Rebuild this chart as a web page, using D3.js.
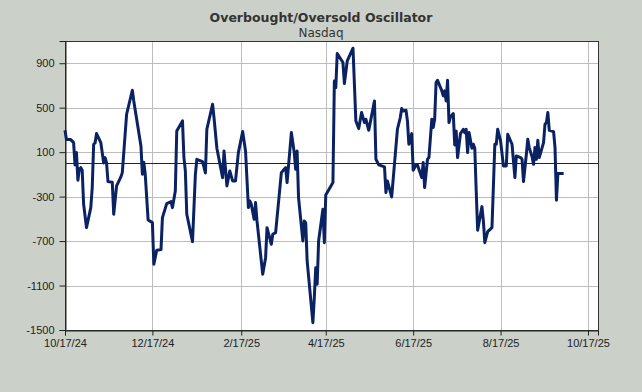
<!DOCTYPE html>
<html>
<head>
<meta charset="utf-8">
<script src="https://cdn.jsdelivr.net/npm/d3@7"></script>
<style>
	html, body { margin: 0; padding: 0; background: #cbd0c9; }
	svg { display: block; }
</style>
</head>
<body>
<div id="chart"></div>
<script>
// readings
var dates = [
	'2024-10-17','2024-10-18','2024-10-21','2024-10-23','2024-10-24','2024-10-25','2024-10-26','2024-10-27','2024-10-28','2024-10-29',
	'2024-10-30','2024-11-01','2024-11-04','2024-11-05','2024-11-06','2024-11-07','2024-11-08','2024-11-11','2024-11-13','2024-11-14',
	'2024-11-15','2024-11-16','2024-11-19','2024-11-20','2024-11-22','2024-11-25','2024-11-26','2024-11-29','2024-12-03','2024-12-04',
	'2024-12-09','2024-12-10','2024-12-11','2024-12-12','2024-12-14','2024-12-17','2024-12-18','2024-12-20','2024-12-23','2024-12-24',
	'2024-12-27','2024-12-30','2024-12-31','2025-01-02','2025-01-03','2025-01-07','2025-01-08','2025-01-09','2025-01-10','2025-01-14',
	'2025-01-16','2025-01-17','2025-01-21','2025-01-23','2025-01-24','2025-01-28','2025-01-29','2025-01-31','2025-02-04','2025-02-05',
	'2025-02-07','2025-02-09','2025-02-11','2025-02-13','2025-02-15','2025-02-18','2025-02-20','2025-02-22','2025-02-23','2025-02-24',
	'2025-02-26','2025-02-27','2025-02-28','2025-03-04','2025-03-06','2025-03-07','2025-03-10','2025-03-11','2025-03-13','2025-03-17',
	'2025-03-19','2025-03-20','2025-03-21','2025-03-24','2025-03-26','2025-03-27','2025-03-28','2025-03-29','2025-04-01','2025-04-02',
	'2025-04-03','2025-04-04','2025-04-08','2025-04-09','2025-04-10','2025-04-11','2025-04-12','2025-04-15','2025-04-16','2025-04-17',
	'2025-04-22','2025-04-23','2025-04-24','2025-04-25','2025-04-29','2025-04-30','2025-05-02','2025-05-06','2025-05-08','2025-05-10',
	'2025-05-12','2025-05-14','2025-05-15','2025-05-17','2025-05-21','2025-05-22','2025-05-24','2025-05-28','2025-05-29','2025-05-30',
	'2025-06-02','2025-06-06','2025-06-08','2025-06-09','2025-06-10','2025-06-12','2025-06-13','2025-06-14','2025-06-16','2025-06-17',
	'2025-06-19','2025-06-20','2025-06-23','2025-06-24','2025-06-25','2025-06-27','2025-06-28','2025-06-30','2025-07-01','2025-07-02',
	'2025-07-03','2025-07-04','2025-07-07','2025-07-08','2025-07-09','2025-07-10','2025-07-11','2025-07-12','2025-07-13','2025-07-15',
	'2025-07-16','2025-07-17','2025-07-18','2025-07-20','2025-07-22','2025-07-23','2025-07-24','2025-07-25','2025-07-26','2025-07-28',
	'2025-07-29','2025-07-30','2025-07-31','2025-08-01','2025-08-04','2025-08-05','2025-08-06','2025-08-08','2025-08-11','2025-08-13',
	'2025-08-14','2025-08-15','2025-08-17','2025-08-19','2025-08-21','2025-08-22','2025-08-25','2025-08-27','2025-08-28','2025-08-31',
	'2025-09-01','2025-09-02','2025-09-04','2025-09-05','2025-09-06','2025-09-08','2025-09-09','2025-09-10','2025-09-11','2025-09-12',
	'2025-09-13','2025-09-15','2025-09-16','2025-09-17','2025-09-18','2025-09-19','2025-09-20','2025-09-23','2025-09-24','2025-09-25',
	'2025-09-26','2025-09-30'
];
var oscillator = [
	297, 213, 213, 186, -15, 96, -153, -54, -39, -63,
	-369, -579, -399, -219, 171, 183, 267, 186, 3, 51,
	3, -165, -171, -459, -204, -123, -84, 441, 657, 561,
	156, -99, 9, -99, -510, -534, -909, -783, -777, -489,
	-363, -345, -399, -249, 291, 381, 51, -69, -459, -705,
	-99, 36, 15, -87, 306, 531, 411, 135, -129, 111,
	-204, -69, -159, -159, 96, 285, 111, -399, -339, -369,
	-504, -354, -519, -999, -849, -579, -729, -639, -624, -84,
	-54, -39, -174, 276, 96, -54, 111, -309, -699, -519,
	-534, -879, -1434, -1209, -939, -1089, -699, -414, -714, -285,
	-174, 741, 681, 987, 906, 717, 921, 1035, 381, 312,
	456, 366, 396, 297, 561, 36, -15, -33, -264, -159,
	-303, 306, 411, 492, 471, 477, 381, 171, 267, -63,
	-15, -15, -129, 6, -219, 36, 51, 396, 321, 396,
	726, 747, 651, 606, 651, 561, 747, 366, 417, 447,
	165, 291, 51, 267, 306, 276, 306, 96, 276, 135,
	171, 135, -249, -603, -390, -519, -714, -615, -579, 171,
	171, 306, 201, -24, -24, 261, 171, -129, 66, 51,
	36, -165, 81, 216, 141, 57, -9, 141, 36, 207,
	51, 141, 186, 351, 366, 456, 297, 285, 141, -333,
	-93, -93
];
var yTicks = [900, 500, 100, -300, -700, -1100, -1500];
var xTicks = ['2024-10-17','2024-12-17','2025-02-17','2025-04-17','2025-06-17','2025-08-17','2025-10-17'];
var title = 'Overbought/Oversold Oscillator';
var subtitle = 'Nasdaq';

var width = 642, height = 392;
var margin = {top: 41, right: 44, bottom: 62, left: 65};
var plotW = width - margin.left - margin.right;
var plotH = height - margin.top - margin.bottom;

var parse = d3.timeParse('%Y-%m-%d');
var fmt = d3.timeFormat('%-m/%-d/%y');

var points = dates.map(function(d, i) {
	return {date: parse(d), value: oscillator[i]};
});

var x = d3.scaleTime()
	.domain([parse('2024-10-17'), parse('2025-10-24')])
	.range([0, plotW]);
var y = d3.scaleLinear()
	.domain([-1500, 1100])
	.range([plotH, 0]);

var svg = d3.select('#chart').append('svg')
	.attr('width', width)
	.attr('height', height)
	.style('font-family', '"DejaVu Sans", Verdana, sans-serif');

svg.append('text')
	.attr('x', width / 2).attr('y', 22)
	.attr('text-anchor', 'middle')
	.attr('font-size', 12.5).attr('font-weight', 'bold')
	.attr('fill', '#333')
	.text(title);
svg.append('text')
	.attr('x', width / 2).attr('y', 37)
	.attr('text-anchor', 'middle')
	.attr('font-size', 12)
	.attr('fill', '#333')
	.text(subtitle);

var g = svg.append('g').attr('transform', 'translate(' + margin.left + ',' + margin.top + ')');

g.append('rect')
	.attr('width', plotW).attr('height', plotH)
	.attr('fill', '#fff');

// grid
g.selectAll('.hgrid').data(yTicks.slice(0, -1)).enter().append('line')
	.attr('x1', 0).attr('x2', plotW)
	.attr('y1', function(d) { return Math.round(y(d)) + 0.5; })
	.attr('y2', function(d) { return Math.round(y(d)) + 0.5; })
	.attr('stroke', '#bdbdbd');
g.selectAll('.vgrid').data(xTicks.slice(1)).enter().append('line')
	.attr('x1', function(d) { return Math.round(x(parse(d))) + 0.5; })
	.attr('x2', function(d) { return Math.round(x(parse(d))) + 0.5; })
	.attr('y1', 0).attr('y2', plotH)
	.attr('stroke', '#bdbdbd');

// zero line
g.append('line')
	.attr('x1', 0).attr('x2', plotW)
	.attr('y1', Math.round(y(0)) + 0.5).attr('y2', Math.round(y(0)) + 0.5)
	.attr('stroke', '#222');

// border
g.append('rect')
	.attr('x', 0.5).attr('y', 0.5)
	.attr('width', plotW).attr('height', plotH)
	.attr('fill', 'none').attr('stroke', '#333');

// axes
var yAxis = d3.axisLeft(y).tickValues(yTicks)
	.tickFormat(function(d) { return String(d); })
	.tickSize(6).tickPadding(5);
var xAxis = d3.axisBottom(x).tickValues(xTicks.map(parse)).tickFormat(fmt).tickSize(5).tickPadding(4);

g.append('g').attr('transform', 'translate(0.5,0)').call(yAxis)
	.call(function(a) {
		a.select('.domain').attr('stroke', '#222');
		a.selectAll('line').attr('stroke', '#222');
		a.selectAll('text').attr('font-size', 11).attr('fill', '#222').attr('font-family', null);
	});
g.append('g').attr('transform', 'translate(0,' + (plotH + 0.5) + ')').call(xAxis)
	.call(function(a) {
		a.select('.domain').attr('stroke', '#222');
		a.selectAll('line').attr('stroke', '#222');
		a.selectAll('text').attr('font-size', 11).attr('fill', '#222').attr('font-family', null);
	});

var line = d3.line()
	.x(function(d) { return x(d.date); })
	.y(function(d) { return y(d.value); });

g.append('path')
	.datum(points)
	.attr('d', line)
	.attr('fill', 'none')
	.attr('stroke', '#0a2262')
	.attr('stroke-width', 3)
	.attr('stroke-linejoin', 'round');
</script>
</body>
</html>
